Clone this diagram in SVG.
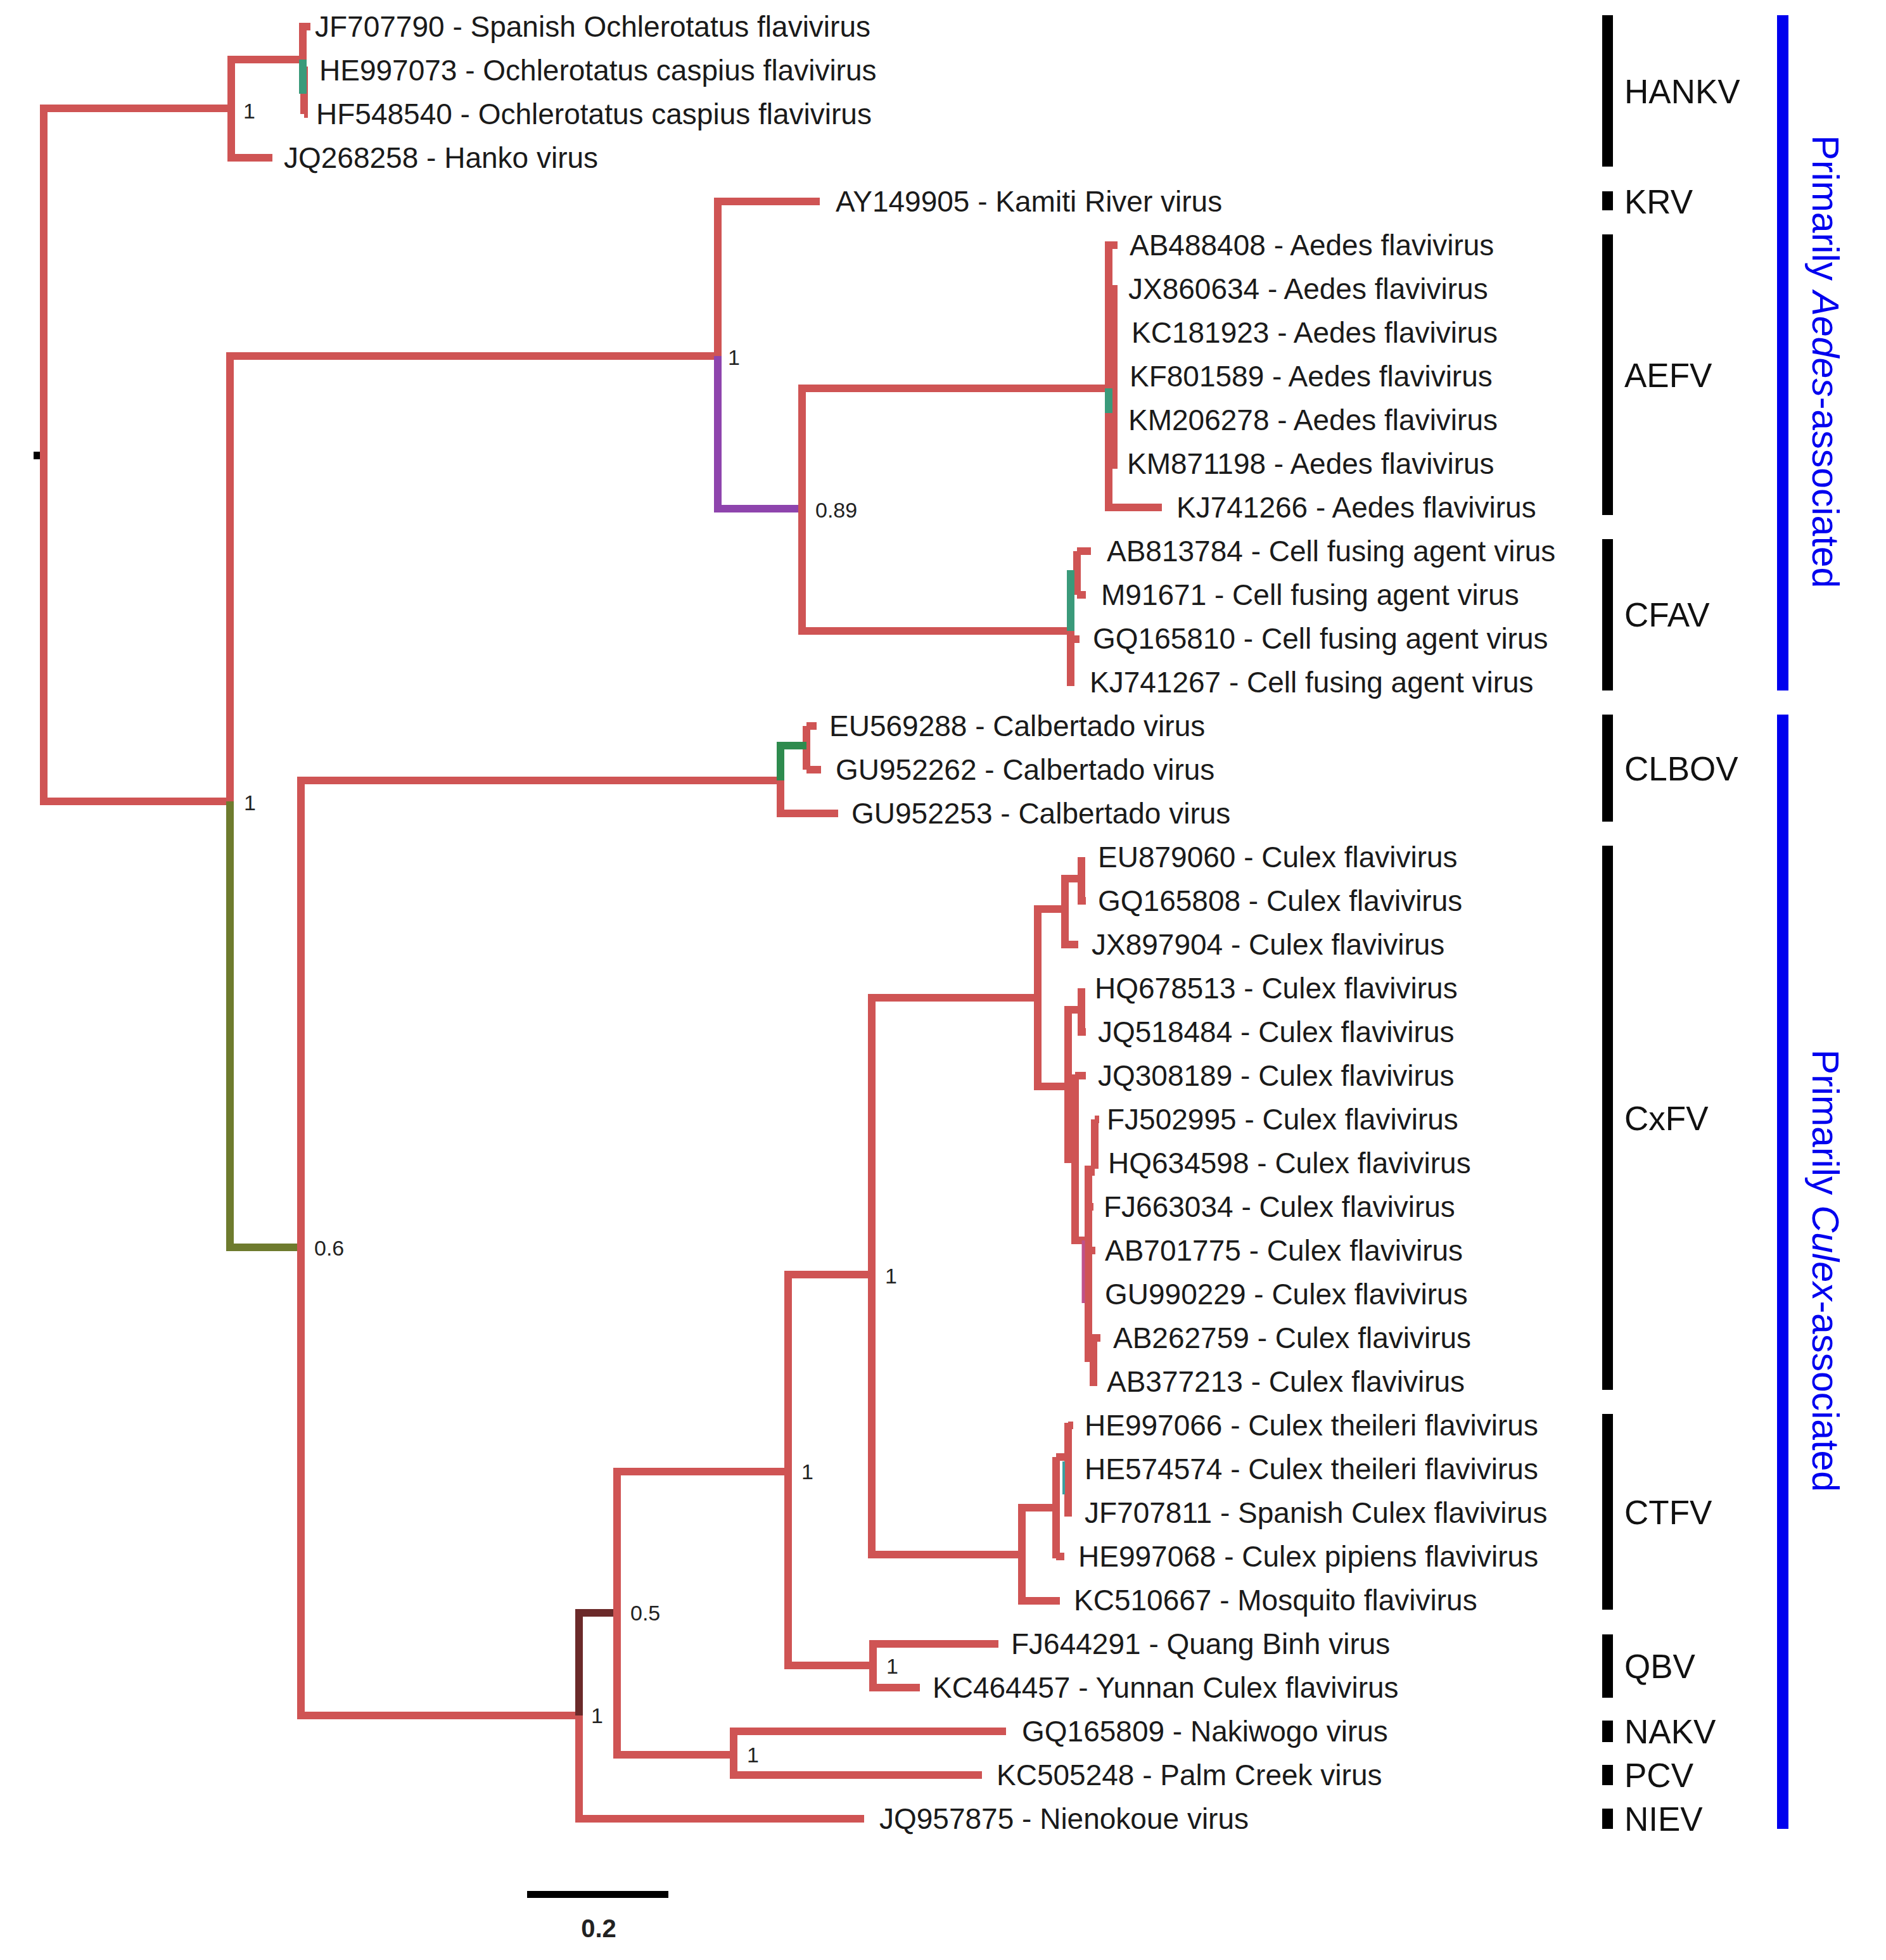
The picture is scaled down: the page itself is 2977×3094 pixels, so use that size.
<svg xmlns="http://www.w3.org/2000/svg" width="2977" height="3094" viewBox="0 0 2977 3094">
<style>
.b{fill:none;stroke:#cf5454;stroke-width:12;stroke-linejoin:miter;stroke-linecap:butt}
.pu{stroke:#8e44ad}
.ol{stroke:#6e7b2e}
.tg{stroke:#3a9a7a}
.gr{stroke:#2e8b4e}
.mr{stroke:#6b2a2a}
.th{stroke-width:5}
.t{font-family:"Liberation Sans",Arial,sans-serif;font-size:46px;fill:#1a1a1a}
.s{font-family:"Liberation Sans",Arial,sans-serif;font-size:34px;fill:#222}
.c{font-family:"Liberation Sans",Arial,sans-serif;font-size:53px;fill:#111}
.bar{fill:#000}
.blue{fill:#0000ee}
.bt{font-family:"Liberation Sans",Arial,sans-serif;font-size:59px;fill:#0000ee}
</style>
<rect width="2977" height="3094" fill="#fff"/>
<g id="connectors">
<rect x="53" y="713" width="16" height="12" fill="#000"/>
<path class="b" d="M69,719 V171 H365"/>
<path class="b" d="M69,719 V1265 H363"/>
<path class="b" d="M365,171 V94 H478"/>
<path class="b" d="M365,171 V249 H430"/>
<path class="b" d="M478,94 V42 H490"/>
<path class="b" d="M480,111 V180"/>
<path class="b" d="M480,111 H486 M480,180 H486"/>
<path class="b tg" d="M478,94 V148"/>
<path class="b" d="M363,1265 V562 H1133"/>
<path class="b ol" d="M363,1265 V1969 H475"/>
<path class="b" d="M1133,562 V318 H1294"/>
<path class="b pu" d="M1133,562 V803 H1266"/>
<path class="b" d="M1266,803 V613 H1750"/>
<path class="b" d="M1266,803 V996 H1690"/>
<path class="b" d="M1750,613 V387 H1764"/>
<path class="b" d="M1750,613 V801 H1834"/>
<path class="b" d="M1758,450 V740"/>
<path class="b" d="M1756,456 H1762 M1756,663 H1762"/>
<path class="b tg" d="M1750,613 V652"/>
<path class="b" d="M1690,996 V1083"/>
<path class="b" d="M1690,1009 H1704"/>
<path class="b" d="M1700,870 V939"/>
<path class="b" d="M1700,870 H1722 M1700,939 H1714"/>
<path class="b tg" d="M1690,996 V900"/>
<path class="b" d="M475,1969 V1232 H1232"/>
<path class="b" d="M475,1969 V2708 H914"/>
<path class="b" d="M1232,1232 V1284 H1323"/>
<path class="b" d="M1273,1146 V1215"/>
<path class="b" d="M1273,1146 H1289 M1273,1215 H1296"/>
<path class="b gr" d="M1232,1232 V1177 H1273"/>
<path class="b mr" d="M914,2708 V2546 H974"/>
<path class="b" d="M914,2708 V2871 H1364"/>
<path class="b" d="M974,2546 V2323 H1244"/>
<path class="b" d="M974,2546 V2770 H1158"/>
<path class="b" d="M1158,2770 V2733 H1588"/>
<path class="b" d="M1158,2770 V2802 H1550"/>
<path class="b" d="M1244,2323 V2012 H1376"/>
<path class="b" d="M1244,2323 V2629 H1378"/>
<path class="b" d="M1378,2629 V2595 H1576"/>
<path class="b" d="M1378,2629 V2664 H1452"/>
<path class="b" d="M1376,2012 V1575 H1638"/>
<path class="b" d="M1376,2012 V2454 H1613"/>
<path class="b" d="M1638,1575 V1435 H1681"/>
<path class="b" d="M1638,1575 V1715 H1686"/>
<path class="b" d="M1681,1435 V1387 H1707"/>
<path class="b" d="M1681,1435 V1491 H1702"/>
<path class="b" d="M1707,1353 V1422 H1714"/>
<path class="b" d="M1686,1715 V1594 H1707"/>
<path class="b" d="M1707,1560 V1629 H1714"/>
<path class="b" d="M1686,1715 V1836"/>
<path class="b" d="M1697,1696 V1958 H1718"/>
<path class="b" d="M1697,1698 H1714"/>
<path class="b" d="M1718,1840 V2150"/>
<path class="b" d="M1718,1850 H1728"/>
<path class="b" d="M1728,1767 V1845"/>
<path class="b" d="M1728,1767 H1735 M1728,1836 H1734"/>
<path class="b" d="M1718,1905 H1726 M1718,1974 H1729"/>
<path class="b" d="M1726,2112 V2188"/>
<path class="b" d="M1718,2112 H1737"/>
<path class="b th" style="stroke:#c0508a" d="M1710,1958 V2057"/>
<path class="b" d="M1613,2454 V2527 H1673"/>
<path class="b" d="M1613,2454 V2380 H1667"/>
<path class="b" d="M1667,2300 V2460"/>
<path class="b" d="M1667,2457 H1680"/>
<path class="b" d="M1667,2300 H1686"/>
<path class="b" d="M1686,2246 V2394"/>
<path class="b" d="M1686,2250 H1694 M1686,2319 H1692 M1686,2388 H1692"/>
<path class="b th" style="stroke:#3aa0a0;stroke-width:4" d="M1679,2307 V2359"/>
<rect x="832" y="2985" width="223" height="11" fill="#000"/>
</g>
<g id="support">
<text class="s" x="384" y="187">1</text>
<text class="s" x="1149" y="576">1</text>
<text class="s" x="1287" y="817">0.89</text>
<text class="s" x="385" y="1279">1</text>
<text class="s" x="496" y="1982">0.6</text>
<text class="s" x="933" y="2720">1</text>
<text class="s" x="995" y="2558">0.5</text>
<text class="s" x="1179" y="2782">1</text>
<text class="s" x="1265" y="2335">1</text>
<text class="s" x="1399" y="2642">1</text>
<text class="s" x="1397" y="2026">1</text>
</g>
<g id="tips">
<g id="tip1"><text class="t" x="497" y="58">JF707790 - Spanish Ochlerotatus flavivirus</text></g>
<g id="tip2"><text class="t" x="504" y="127">HE997073 - Ochlerotatus caspius flavivirus</text></g>
<g id="tip3"><text class="t" x="499" y="196">HF548540 - Ochlerotatus caspius flavivirus</text></g>
<g id="tip4"><text class="t" x="448" y="265">JQ268258 - Hanko virus</text></g>
<g id="tip5"><text class="t" x="1319" y="334">AY149905 - Kamiti River virus</text></g>
<g id="tip6"><text class="t" x="1783" y="403">AB488408 - Aedes flavivirus</text></g>
<g id="tip7"><text class="t" x="1781" y="472">JX860634 - Aedes flavivirus</text></g>
<g id="tip8"><text class="t" x="1786" y="541">KC181923 - Aedes flavivirus</text></g>
<g id="tip9"><text class="t" x="1783" y="610">KF801589 - Aedes flavivirus</text></g>
<g id="tip10"><text class="t" x="1781" y="679">KM206278 - Aedes flavivirus</text></g>
<g id="tip11"><text class="t" x="1779" y="748">KM871198 - Aedes flavivirus</text></g>
<g id="tip12"><text class="t" x="1857" y="817">KJ741266 - Aedes flavivirus</text></g>
<g id="tip13"><text class="t" x="1747" y="886">AB813784 - Cell fusing agent virus</text></g>
<g id="tip14"><text class="t" x="1738" y="955">M91671 - Cell fusing agent virus</text></g>
<g id="tip15"><text class="t" x="1725" y="1024">GQ165810 - Cell fusing agent virus</text></g>
<g id="tip16"><text class="t" x="1720" y="1093">KJ741267 - Cell fusing agent virus</text></g>
<g id="tip17"><text class="t" x="1309" y="1162">EU569288 - Calbertado virus</text></g>
<g id="tip18"><text class="t" x="1319" y="1231">GU952262 - Calbertado virus</text></g>
<g id="tip19"><text class="t" x="1344" y="1300">GU952253 - Calbertado virus</text></g>
<g id="tip20"><text class="t" x="1733" y="1369">EU879060 - Culex flavivirus</text></g>
<g id="tip21"><text class="t" x="1733" y="1438">GQ165808 - Culex flavivirus</text></g>
<g id="tip22"><text class="t" x="1723" y="1507">JX897904 - Culex flavivirus</text></g>
<g id="tip23"><text class="t" x="1728" y="1576">HQ678513 - Culex flavivirus</text></g>
<g id="tip24"><text class="t" x="1733" y="1645">JQ518484 - Culex flavivirus</text></g>
<g id="tip25"><text class="t" x="1733" y="1714">JQ308189 - Culex flavivirus</text></g>
<g id="tip26"><text class="t" x="1747" y="1783">FJ502995 - Culex flavivirus</text></g>
<g id="tip27"><text class="t" x="1749" y="1852">HQ634598 - Culex flavivirus</text></g>
<g id="tip28"><text class="t" x="1742" y="1921">FJ663034 - Culex flavivirus</text></g>
<g id="tip29"><text class="t" x="1744" y="1990">AB701775 - Culex flavivirus</text></g>
<g id="tip30"><text class="t" x="1744" y="2059">GU990229 - Culex flavivirus</text></g>
<g id="tip31"><text class="t" x="1757" y="2128">AB262759 - Culex flavivirus</text></g>
<g id="tip32"><text class="t" x="1747" y="2197">AB377213 - Culex flavivirus</text></g>
<g id="tip33"><text class="t" x="1712" y="2266">HE997066 - Culex theileri flavivirus</text></g>
<g id="tip34"><text class="t" x="1712" y="2335">HE574574 - Culex theileri flavivirus</text></g>
<g id="tip35"><text class="t" x="1712" y="2404">JF707811 - Spanish Culex flavivirus</text></g>
<g id="tip36"><text class="t" x="1702" y="2473">HE997068 - Culex pipiens flavivirus</text></g>
<g id="tip37"><text class="t" x="1695" y="2542">KC510667 - Mosquito flavivirus</text></g>
<g id="tip38"><text class="t" x="1596" y="2611">FJ644291 - Quang Binh virus</text></g>
<g id="tip39"><text class="t" x="1472" y="2680">KC464457 - Yunnan Culex flavivirus</text></g>
<g id="tip40"><text class="t" x="1613" y="2749">GQ165809 - Nakiwogo virus</text></g>
<g id="tip41"><text class="t" x="1573" y="2818">KC505248 - Palm Creek virus</text></g>
<g id="tip42"><text class="t" x="1388" y="2887">JQ957875 - Nienokoue virus</text></g>
</g>
<g id="clades">
<g id="HANKV"><rect class="bar" x="2529" y="24" width="17" height="239"/><text class="c" x="2564" y="163">HANKV</text></g>
<g id="KRV"><rect class="bar" x="2529" y="302" width="17" height="30"/><text class="c" x="2564" y="337">KRV</text></g>
<g id="AEFV"><rect class="bar" x="2529" y="370" width="17" height="443"/><text class="c" x="2564" y="611">AEFV</text></g>
<g id="CFAV"><rect class="bar" x="2529" y="851" width="17" height="239"/><text class="c" x="2564" y="989">CFAV</text></g>
<g id="CLBOV"><rect class="bar" x="2529" y="1128" width="17" height="169"/><text class="c" x="2564" y="1232">CLBOV</text></g>
<g id="CxFV"><rect class="bar" x="2529" y="1335" width="17" height="859"/><text class="c" x="2564" y="1784">CxFV</text></g>
<g id="CTFV"><rect class="bar" x="2529" y="2232" width="17" height="309"/><text class="c" x="2564" y="2406">CTFV</text></g>
<g id="QBV"><rect class="bar" x="2529" y="2580" width="17" height="100"/><text class="c" x="2564" y="2649">QBV</text></g>
<g id="NAKV"><rect class="bar" x="2529" y="2716" width="17" height="34"/><text class="c" x="2564" y="2752">NAKV</text></g>
<g id="PCV"><rect class="bar" x="2529" y="2786" width="17" height="32"/><text class="c" x="2564" y="2821">PCV</text></g>
<g id="NIEV"><rect class="bar" x="2529" y="2855" width="17" height="32"/><text class="c" x="2564" y="2890">NIEV</text></g>
</g>
<g id="groups">
<g id="aedes-group"><rect class="blue" x="2805" y="24" width="18" height="1066"/>
<text class="bt" transform="translate(2861,571) rotate(90)" text-anchor="middle">Primarily <tspan font-style="italic">Aedes</tspan>-associated</text></g>
<g id="culex-group"><rect class="blue" x="2805" y="1128" width="18" height="1759"/>
<text class="bt" transform="translate(2861,2006) rotate(90)" text-anchor="middle">Primarily <tspan font-style="italic">Culex</tspan>-associated</text></g>
</g>
<g id="scale"><text x="945" y="3058" text-anchor="middle" font-family="Liberation Sans,Arial,sans-serif" font-size="40" font-weight="bold" fill="#222">0.2</text></g>
</svg>
